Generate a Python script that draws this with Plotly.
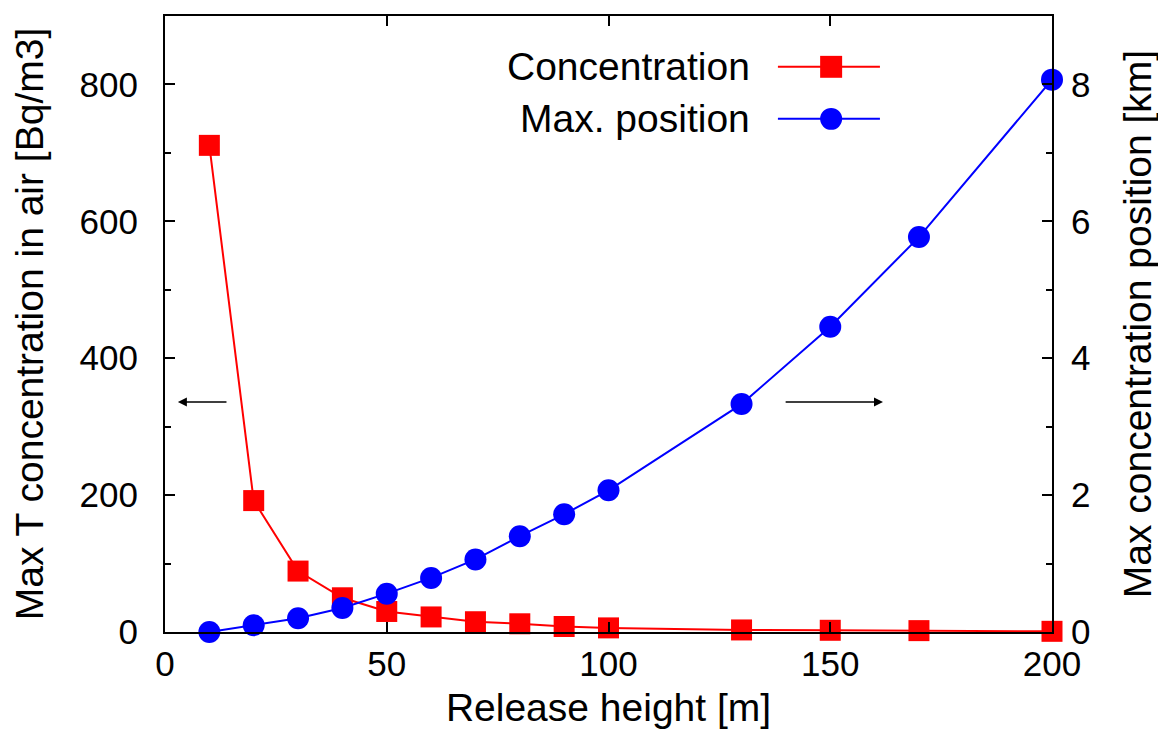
import plotly.graph_objects as go

release_height = [10, 20, 30, 40, 50, 60, 70, 80, 90, 100, 130, 150, 170, 200]
concentration = [711, 192, 89, 50, 30, 22, 15, 12, 8, 6, 3, 2.5, 2, 1]
max_position = [0.0, 0.1, 0.2, 0.35, 0.56, 0.79, 1.06, 1.4, 1.72, 2.07, 3.33, 4.46, 5.77, 8.07]

x_ticks = [0, 50, 100, 150, 200]
y1_ticks = [0, 200, 400, 600, 800]
y2_ticks = [0, 2, 4, 6, 8]

FONT = "Liberation Sans, Arial, sans-serif"
TICK_SIZE = 35
TITLE_SIZE = 39

fig = go.Figure()
fig.add_trace(go.Scatter(
    x=release_height, y=concentration, name="Concentration", mode="lines+markers",
    line=dict(color="#ff0000", width=2),
    marker=dict(symbol="square", size=21, color="#ff0000"),
    yaxis="y", cliponaxis=False))
fig.add_trace(go.Scatter(
    x=release_height, y=max_position, name="Max. position", mode="lines+markers",
    line=dict(color="#0000ff", width=2),
    marker=dict(symbol="circle", size=22, color="#0000ff"),
    yaxis="y2", cliponaxis=False))

axis_common = dict(showline=True, linecolor="#000", linewidth=2, ticks="inside",
                   ticklen=10, tickwidth=1.5, tickcolor="#000", showgrid=False,
                   zeroline=False, tickfont=dict(family=FONT, size=TICK_SIZE, color="#000"))

fig.update_layout(
    width=1158, height=728,
    margin=dict(l=157, r=114, t=6, b=104),
    paper_bgcolor="white", plot_bgcolor="white",
    showlegend=False,
    xaxis=dict(range=[0, 200], tickvals=x_ticks, mirror="ticks", ticklabelstandoff=0,
               title=dict(text="Release height [m]", font=dict(family=FONT, size=TITLE_SIZE, color="#000"), standoff=12),
               **axis_common),
    yaxis=dict(range=[0, 900], tickvals=y1_ticks, ticklabelstandoff=18,
               minor=dict(dtick=100, ticks="inside", ticklen=6, tickcolor="#000"),
               title=dict(text="Max T concentration in air [Bq/m3]", font=dict(family=FONT, size=TITLE_SIZE, color="#000"), standoff=25),
               **axis_common),
    yaxis2=dict(range=[0, 9], tickvals=y2_ticks, overlaying="y", side="right", ticklabelstandoff=10,
                minor=dict(dtick=1, ticks="inside", ticklen=6, tickcolor="#000"),
                title=dict(text="Max concentration position [km]", font=dict(family=FONT, size=TITLE_SIZE, color="#000"), standoff=34),
                **axis_common),
)

# direction arrows
fig.add_annotation(x=2.9, y=336, xref="x", yref="y", ax=14.2, ay=336, axref="x", ayref="y",
                   showarrow=True, arrowhead=2, arrowsize=1.2, arrowwidth=1.5, arrowcolor="#000", text="")
fig.add_annotation(x=161.9, y=3.36, xref="x", yref="y2", ax=139.6, ay=3.36, axref="x", ayref="y2",
                   showarrow=True, arrowhead=2, arrowsize=1.2, arrowwidth=1.5, arrowcolor="#000", text="")

# legend (text right-aligned, sample to the right, gnuplot-style)
legend_items = [("Concentration", "#ff0000", "square"), ("Max. position", "#0000ff", "circle")]
leg_y = [0.9175, 0.833]
for (label, color, sym), yy in zip(legend_items, leg_y):
    fig.add_annotation(x=0.662, y=yy, xref="paper", yref="paper", text=label, showarrow=False,
                       xanchor="right", yanchor="middle", font=dict(family=FONT, size=TITLE_SIZE, color="#000"))
    fig.add_shape(type="line", xref="paper", yref="paper", x0=0.691, x1=0.806, y0=yy, y1=yy,
                  line=dict(color=color, width=2))
    xc, rx, ry = 0.751, 0.0124, 0.0178
    fig.add_shape(type="rect" if sym == "square" else "circle", xref="paper", yref="paper",
                  x0=xc - rx, x1=xc + rx, y0=yy - ry, y1=yy + ry, fillcolor=color, line=dict(width=0))

fig.write_html("out.html")
